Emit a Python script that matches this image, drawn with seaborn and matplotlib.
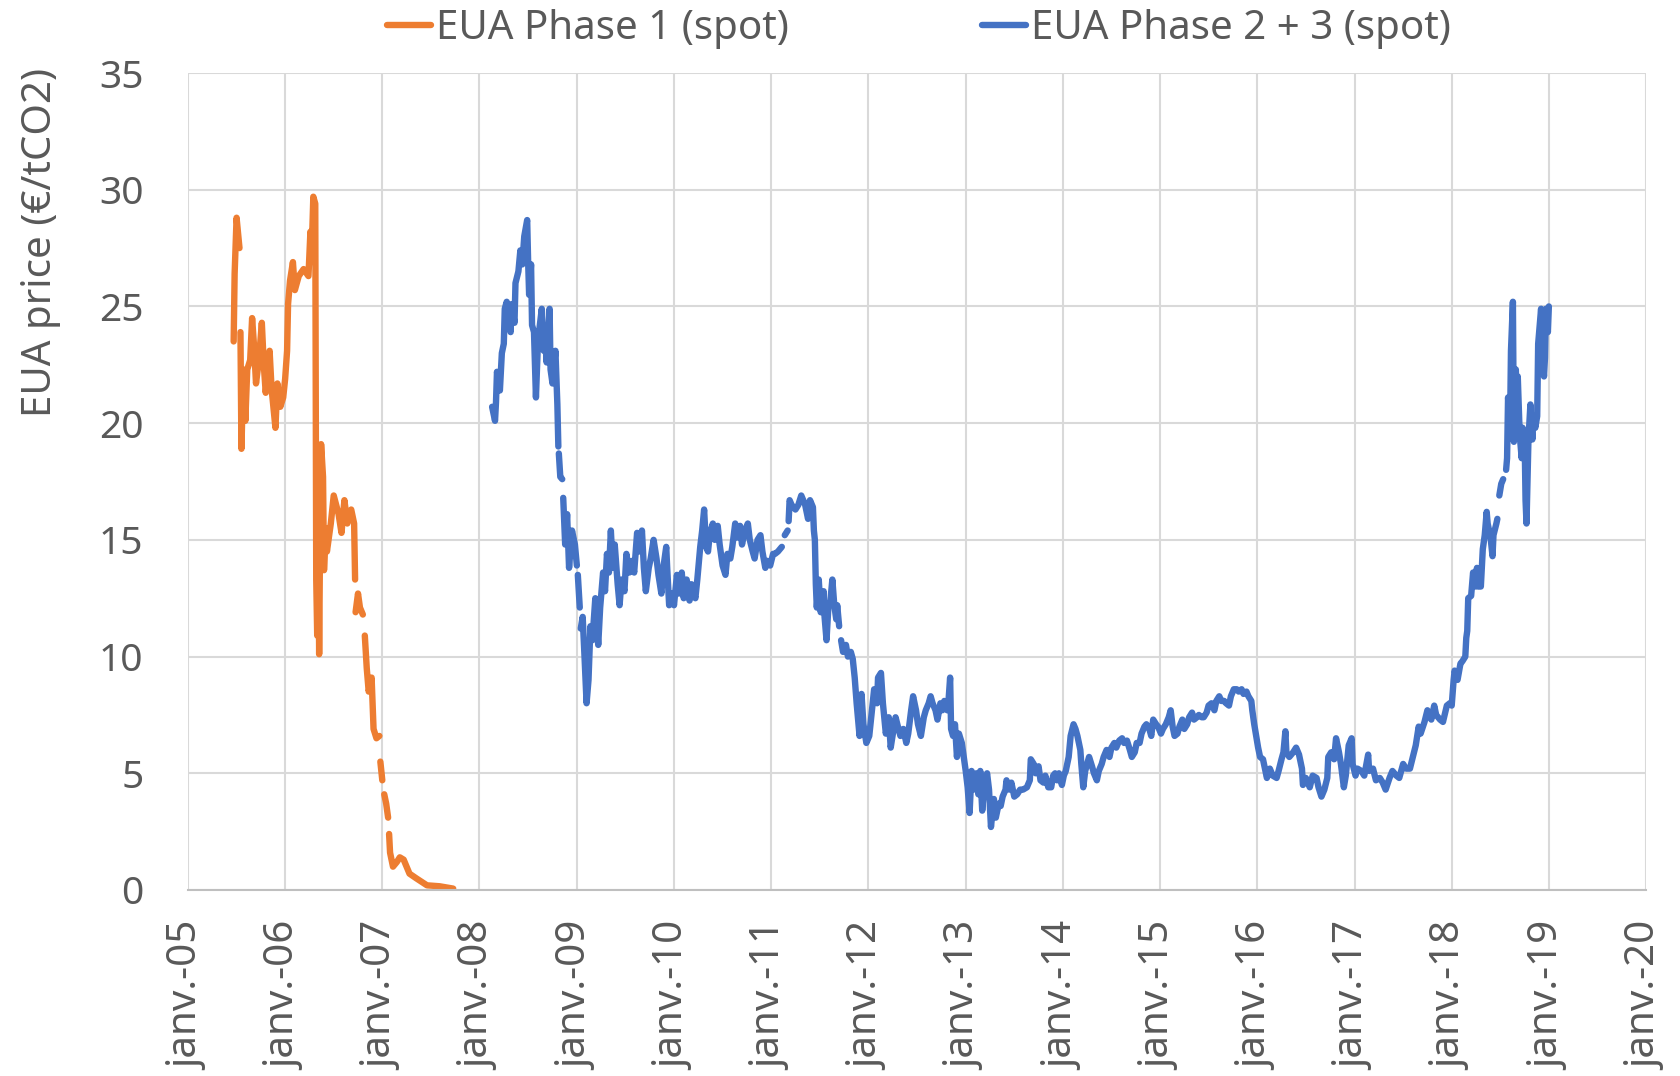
import numpy as np
import pandas as pd
import matplotlib.pyplot as plt
import seaborn as sns

nan = np.nan

# Phase 1 (decimal year, EUR/tCO2) - nan marks a gap in the series
phase1_years = [2005.47, 2005.48, 2005.50, 2005.53, nan,
                2005.54, 2005.55, 2005.57, 2005.59, 2005.61, 2005.64, 2005.66, 2005.68,
                2005.70, 2005.73, 2005.76, 2005.78, 2005.80, 2005.84, 2005.86, 2005.90,
                2005.92, 2005.95, 2005.98, 2006.00, 2006.02, 2006.03, 2006.05, 2006.08,
                2006.10, 2006.14, 2006.19, 2006.24, 2006.26, 2006.27, 2006.29, 2006.31,
                2006.32, 2006.33, 2006.34, 2006.35, 2006.36, 2006.37, 2006.39, 2006.40,
                2006.42, 2006.43, 2006.47, 2006.50, 2006.55, 2006.58, 2006.61, 2006.64,
                2006.68, 2006.71, 2006.72, nan,
                2006.725, 2006.75, 2006.77, 2006.80, nan,
                2006.82, 2006.84, 2006.86, 2006.89, 2006.91, 2006.94, 2006.97, nan,
                2006.98, 2007.00, nan,
                2007.02, 2007.04, 2007.06, nan,
                2007.07, 2007.08, 2007.11, 2007.15, 2007.18, 2007.22, 2007.25, 2007.28,
                2007.35, 2007.46, 2007.59, 2007.73]
phase1_prices = [23.5, 26.4, 28.8, 27.5, nan,
                 23.9, 18.9, 22.3, 20.1, 22.3, 22.7, 24.5, 23.3,
                 21.7, 22.7, 24.3, 22.5, 21.3, 23.1, 21.5, 19.8,
                 21.7, 20.7, 21.1, 21.9, 23.1, 25.1, 26.1, 26.9,
                 25.7, 26.3, 26.6, 26.3, 28.2, 26.9, 29.7, 29.4,
                 13.3, 10.9, 16.3, 10.1, 15.3, 19.1, 17.7, 13.7,
                 15.5, 14.5, 15.7, 16.9, 16.1, 15.3, 16.7, 15.7,
                 16.3, 15.7, 13.3, nan,
                 11.9, 12.7, 12.1, 11.8, nan,
                 10.9, 9.5, 8.5, 9.1, 6.9, 6.5, 6.6, nan,
                 5.5, 4.7, nan,
                 4.1, 3.7, 3.1, nan,
                 2.4, 1.6, 1.0, 1.2, 1.4, 1.3, 1.0, 0.7,
                 0.5, 0.2, 0.16, 0.06]

# Phase 2 + 3 (decimal year, EUR/tCO2)
phase23_years = [2008.13, 2008.16, 2008.17, 2008.18, 2008.21, 2008.23, 2008.25, 2008.26,
                 2008.28, 2008.30, 2008.32, 2008.33, 2008.36, 2008.37, 2008.40, 2008.42,
                 2008.44, 2008.46, 2008.49, 2008.50, 2008.51, 2008.53, 2008.54, 2008.56,
                 2008.58, 2008.60, 2008.62, 2008.64, 2008.66, 2008.67, 2008.69, 2008.72,
                 2008.73, 2008.75, 2008.78, 2008.80, 2008.81, nan,
                 2008.815, 2008.83, 2008.85, nan,
                 2008.86, 2008.88, 2008.90, 2008.92, 2008.95, 2008.98, 2009.00, nan,
                 2009.01, 2009.03, nan,
                 2009.04, 2009.06, 2009.08, 2009.10, 2009.12, 2009.14, 2009.16, 2009.19,
                 2009.22, 2009.24, 2009.27, 2009.29, 2009.31, 2009.33, 2009.35, 2009.37,
                 2009.39, 2009.42, 2009.44, 2009.46, 2009.49, 2009.51, 2009.54, 2009.57,
                 2009.59, 2009.62, 2009.65, 2009.67, 2009.69, 2009.71, 2009.74, 2009.76,
                 2009.79, 2009.82, 2009.84, 2009.87, 2009.89, 2009.92, 2009.93, 2009.95,
                 2009.98, 2010.00, 2010.03, 2010.05, 2010.08, 2010.10, 2010.13, 2010.16,
                 2010.18, 2010.22, 2010.24, 2010.27, 2010.29, 2010.31, 2010.33, 2010.35,
                 2010.37, 2010.40, 2010.42, 2010.45, 2010.47, 2010.50, 2010.53, 2010.55,
                 2010.58, 2010.60, 2010.63, 2010.65, 2010.68, 2010.70, 2010.73, 2010.76,
                 2010.78, 2010.81, 2010.83, 2010.86, 2010.89, 2010.91, 2010.94, 2010.96,
                 2010.99, 2011.02, 2011.04, 2011.07, 2011.11, nan,
                 2011.14, 2011.17, nan,
                 2011.18, 2011.19, 2011.21, 2011.25, 2011.28, 2011.31, 2011.35, 2011.38,
                 2011.40, 2011.43, 2011.44, 2011.45, 2011.46, 2011.47, 2011.49, 2011.51,
                 2011.54, 2011.55, 2011.57, 2011.59, 2011.61, 2011.63, 2011.65, 2011.67,
                 2011.68, 2011.70, nan,
                 2011.72, 2011.74, 2011.77, 2011.79, 2011.82, 2011.84,
                 2011.86, 2011.88, 2011.91, 2011.93, 2011.95, 2011.98, 2012.01, 2012.03,
                 2012.06, 2012.09, 2012.10, 2012.13, 2012.15, 2012.18, 2012.21, 2012.23,
                 2012.26, 2012.28, 2012.31, 2012.33, 2012.36, 2012.39, 2012.41, 2012.44,
                 2012.46, 2012.49, 2012.51, 2012.54, 2012.57, 2012.59, 2012.62, 2012.64,
                 2012.66, 2012.69, 2012.71, 2012.74, 2012.76, 2012.78, 2012.81, 2012.82,
                 2012.84, 2012.85, 2012.87, 2012.89, 2012.91, 2012.93, 2012.96, 2012.98,
                 2013.00, 2013.02, 2013.04, 2013.06, 2013.08, 2013.11, 2013.13, 2013.15,
                 2013.17, 2013.19, 2013.22, 2013.24, 2013.26, 2013.29, 2013.31, 2013.34,
                 2013.36, 2013.38, 2013.41, 2013.42, 2013.45, 2013.47, 2013.50, 2013.53,
                 2013.56, 2013.59, 2013.63, 2013.66, 2013.67, 2013.70, 2013.72, 2013.75,
                 2013.77, 2013.80, 2013.82, 2013.85, 2013.88, 2013.90, 2013.92, 2013.94,
                 2013.96, 2013.99, 2014.01, 2014.03, 2014.06, 2014.08, 2014.11, 2014.13,
                 2014.15, 2014.18, 2014.19, 2014.21, 2014.23, 2014.25, 2014.27, 2014.30,
                 2014.32, 2014.35, 2014.37, 2014.40, 2014.42, 2014.45, 2014.48, 2014.50,
                 2014.53, 2014.55, 2014.58, 2014.61, 2014.63, 2014.66, 2014.69, 2014.71,
                 2014.74, 2014.76, 2014.79, 2014.81, 2014.84, 2014.86, 2014.89, 2014.91,
                 2014.93, 2014.96, 2014.98, 2015.01, 2015.03, 2015.06, 2015.09, 2015.11,
                 2015.13, 2015.15, 2015.18, 2015.20, 2015.23, 2015.25, 2015.28, 2015.30,
                 2015.33, 2015.35, 2015.38, 2015.40, 2015.43, 2015.45, 2015.48, 2015.50,
                 2015.53, 2015.56, 2015.58, 2015.61, 2015.63, 2015.66, 2015.68, 2015.71,
                 2015.73, 2015.76, 2015.79, 2015.81, 2015.84, 2015.86, 2015.89, 2015.91,
                 2015.94, 2015.95, 2015.97, 2015.99, 2016.01, 2016.03, 2016.06,
                 2016.08, 2016.10, 2016.13, 2016.16, 2016.20, 2016.22, 2016.25, 2016.27,
                 2016.29, 2016.30, 2016.33, 2016.37, 2016.40, 2016.43, 2016.46, 2016.47,
                 2016.50, 2016.54, 2016.57, 2016.61, 2016.63, 2016.66, 2016.69, 2016.72,
                 2016.73, 2016.76, 2016.79, 2016.81, 2016.84, 2016.86, 2016.89, 2016.91,
                 2016.94, 2016.97, 2016.98, 2017.01, 2017.03, 2017.07, 2017.10, 2017.14,
                 2017.15, 2017.19, 2017.22, 2017.26, 2017.29, 2017.32, 2017.36, 2017.39,
                 2017.43, 2017.46, 2017.50, 2017.53, 2017.57, 2017.60, 2017.63, 2017.66,
                 2017.68, 2017.72, 2017.75, 2017.79, 2017.82, 2017.84, 2017.88, 2017.91,
                 2017.95, 2017.98, 2018.00, 2018.02, 2018.03, 2018.06, 2018.09, 2018.11,
                 2018.14, 2018.15, 2018.16, 2018.17, 2018.20, 2018.22, 2018.24, 2018.26,
                 2018.27, 2018.30, 2018.32, 2018.34, 2018.36, 2018.37, 2018.40, 2018.42,
                 2018.43, 2018.46, 2018.47, nan,
                 2018.49, 2018.51, 2018.53, nan,
                 2018.56, 2018.57, 2018.58, 2018.60, 2018.61, 2018.63, 2018.64, 2018.66,
                 2018.67, 2018.68, 2018.70, 2018.72, 2018.73, 2018.75, 2018.76, 2018.77,
                 2018.79, 2018.81, 2018.83, 2018.84, 2018.86, 2018.88, 2018.89, 2018.91,
                 2018.92, 2018.93, 2018.95, 2018.96, 2018.97, 2018.99, 2019.00]
phase23_prices = [20.7, 20.1, 20.9, 22.2, 21.4, 23.0, 23.4, 24.9,
                  25.2, 24.5, 23.9, 25.1, 24.3, 26.0, 26.5, 27.4,
                  26.8, 28.0, 28.7, 26.9, 25.5, 26.8, 24.2, 23.9,
                  21.1, 23.4, 24.2, 24.9, 23.1, 24.0, 22.6, 24.9,
                  22.3, 21.7, 23.1, 20.8, 19.0, nan,
                  18.7, 17.7, 17.6, nan,
                  16.8, 14.8, 16.1, 13.8, 15.4, 14.8, 13.9, nan,
                  13.5, 12.1, nan,
                  11.2, 11.7, 9.9, 8.0, 9.0, 11.3, 10.7, 12.5,
                  10.5, 12.1, 13.6, 12.8, 14.4, 13.6, 15.4, 13.8,
                  14.8, 13.1, 12.2, 13.3, 12.8, 14.4, 13.6, 14.1,
                  13.6, 15.3, 14.5, 15.4, 13.8, 12.8, 13.8, 14.2,
                  15.0, 14.2, 13.5, 12.7, 13.8, 14.7, 13.8, 12.2,
                  12.7, 12.2, 13.5, 12.7, 13.6, 12.5, 13.3, 12.4,
                  13.1, 12.5, 13.3, 14.7, 15.4, 16.3, 14.7, 14.5,
                  15.3, 15.7, 15.0, 15.6, 14.8, 13.9, 13.5, 14.4,
                  14.2, 14.7, 15.7, 15.1, 15.6, 14.8, 15.4, 15.7,
                  15.0, 14.5, 14.2, 15.0, 15.2, 14.5, 13.8, 14.1,
                  13.9, 14.4, 14.4, 14.5, 14.7, nan,
                  15.2, 15.4, nan,
                  15.8, 16.7, 16.5, 16.3, 16.5, 16.9, 16.5, 15.9,
                  16.7, 16.4, 15.4, 15.0, 13.1, 12.1, 13.3, 11.9,
                  12.8, 11.7, 10.7, 12.2, 12.4, 13.3, 12.2, 11.6,
                  12.2, 11.3, nan,
                  10.7, 10.2, 10.5, 10.0, 10.2, 9.9,
                  9.1, 8.0, 6.6, 8.4, 7.1, 6.3, 6.6, 7.4,
                  8.6, 8.0, 9.1, 9.3, 8.0, 6.7, 7.4, 6.1,
                  6.9, 7.4, 6.9, 6.6, 6.9, 6.3, 6.7, 7.7,
                  8.3, 7.7, 7.1, 6.6, 7.4, 7.7, 8.0, 8.3,
                  8.0, 7.7, 7.3, 8.0, 7.7, 8.1, 7.7, 7.9,
                  9.1, 6.9, 6.6, 7.1, 5.7, 6.7, 6.3, 5.7,
                  5.1, 4.4, 3.3, 5.1, 4.3, 5.0, 4.1, 5.1,
                  3.4, 4.4, 5.0, 4.3, 2.7, 3.9, 3.1, 3.7,
                  3.6, 4.0, 4.3, 4.7, 4.3, 4.6, 4.0, 4.1,
                  4.3, 4.3, 4.4, 4.7, 5.6, 5.4, 5.0, 5.3,
                  4.7, 4.6, 4.9, 4.4, 4.4, 4.9, 5.0, 4.7,
                  5.0, 4.5, 4.9, 5.1, 5.7, 6.6, 7.1, 6.9,
                  6.6, 6.0, 5.4, 4.4, 5.1, 5.4, 5.7, 5.3,
                  5.0, 4.7, 5.1, 5.4, 5.7, 6.0, 5.7, 6.1,
                  6.3, 6.1, 6.4, 6.5, 6.3, 6.4, 6.0, 5.7,
                  5.9, 6.3, 6.3, 6.7, 7.0, 7.1, 6.9, 6.6,
                  7.3, 7.1, 7.0, 6.7, 6.9, 7.1, 7.4, 7.7,
                  7.0, 6.6, 6.7, 7.0, 7.3, 6.9, 7.1, 7.4,
                  7.6, 7.3, 7.4, 7.5, 7.4, 7.4, 7.6, 7.9,
                  8.0, 7.7, 8.1, 8.3, 8.1, 8.1, 8.0, 7.9,
                  8.3, 8.6, 8.6, 8.5, 8.6, 8.4, 8.5, 8.3,
                  8.1, 7.7, 7.1, 6.6, 6.1, 5.7, 5.6,
                  5.2, 4.8, 5.2, 4.9, 4.8, 5.1, 5.6, 5.9,
                  6.8, 5.9, 5.7, 5.9, 6.1, 5.8, 5.2, 4.5,
                  4.8, 4.4, 4.9, 4.8, 4.4, 4.0, 4.3, 4.8,
                  5.7, 5.9, 5.6, 6.5, 5.9, 5.4, 4.4, 4.9,
                  6.2, 6.5, 5.4, 4.9, 5.2, 5.1, 4.9, 5.8,
                  5.1, 5.2, 4.7, 4.8, 4.6, 4.3, 4.8, 5.1,
                  4.9, 4.8, 5.4, 5.2, 5.2, 5.7, 6.2, 7.0,
                  6.7, 7.2, 7.7, 7.3, 7.9, 7.5, 7.3, 7.2,
                  7.9, 8.0, 7.9, 9.0, 9.4, 9.0, 9.7, 9.8,
                  10.0, 10.8, 11.1, 12.5, 12.6, 13.6, 13.0, 13.8,
                  13.0, 13.0, 14.6, 15.2, 16.2, 15.7, 15.1, 14.3,
                  15.2, 15.7, 15.9, nan,
                  16.9, 17.4, 17.6, nan,
                  18.0, 18.5, 21.1, 19.7, 23.1, 25.2, 19.2, 22.3,
                  21.0, 22.0, 19.5, 18.5, 19.8, 19.5, 16.7, 15.7,
                  19.3, 20.8, 19.3, 20.3, 19.8, 20.3, 23.4, 24.4,
                  24.9, 23.3, 22.0, 22.8, 24.9, 23.9, 25.0]

series_names = ['EUA Phase 1 (spot)', 'EUA Phase 2 + 3 (spot)']
series_colors = ['#ED7D31', '#4472C4']
tick_years = list(range(2005, 2021))
tick_labels = [f'janv.-{y % 100:02d}' for y in tick_years]


def to_date(y):
    year = int(np.floor(y))
    start = pd.Timestamp(year=year, month=1, day=1)
    end = pd.Timestamp(year=year + 1, month=1, day=1)
    return start + (end - start) * (y - year)


frames = []
for name, years, prices in [(series_names[0], phase1_years, phase1_prices),
                            (series_names[1], phase23_years, phase23_prices)]:
    d = pd.DataFrame({'year': years, 'price': prices})
    d['segment'] = name + '_' + d['year'].isna().cumsum().astype(str)
    d = d.dropna()
    d['date'] = d['year'].apply(to_date)
    d['series'] = name
    frames.append(d)
df = pd.concat(frames, ignore_index=True)

sns.set_style('white')
plt.rcParams['font.family'] = ['Noto Sans', 'DejaVu Sans']
text_color = '#595959'
lw = 4.6

fig = plt.figure(figsize=(16.81, 10.76), dpi=100)
ax = fig.add_axes([188 / 1681, 1 - 890 / 1076, (1646 - 188) / 1681, (890 - 73) / 1076])

sns.lineplot(data=df, x='date', y='price', hue='series', units='segment',
             estimator=None, palette=dict(zip(series_names, series_colors)),
             sort=False, ax=ax, legend=True)
for line in ax.get_lines():
    line.set_linewidth(lw)
    line.set_solid_capstyle('round')
    line.set_solid_joinstyle('round')

ax.set_xlim(pd.Timestamp('2005-01-01'), pd.Timestamp('2020-01-01'))
ax.set_ylim(0, 35)
ax.set_yticks(range(0, 36, 5))
ax.set_xticks([pd.Timestamp(year=y, month=1, day=1) for y in tick_years])
ax.set_xticklabels(tick_labels, rotation=90)
ax.grid(True, color='#D9D9D9', linewidth=1.5)
ax.set_axisbelow(True)
for side in ['top', 'right', 'left']:
    ax.spines[side].set_visible(False)
ax.spines['bottom'].set_color('#BFBFBF')
ax.spines['bottom'].set_linewidth(1.5)
ax.tick_params(axis='y', length=0, pad=32, labelsize=28, labelcolor=text_color)
ax.tick_params(axis='x', length=0, pad=23, labelsize=29, labelcolor=text_color)
ax.set_xlabel('')
ax.set_ylabel('EUA price (€/tCO2)', fontsize=29, color=text_color)
ax.yaxis.set_label_coords((61 - 188) / 1458, (890 - 242) / 817)

handles, labels = ax.get_legend_handles_labels()
ax.get_legend().remove()
for h in handles:
    h.set_linewidth(lw)
fig.legend(handles, labels, loc='center', bbox_to_anchor=(919 / 1681, 1 - 29 / 1076),
           ncol=2, frameon=False, fontsize=29, labelcolor=text_color,
           handlelength=1.1, handletextpad=0.12, columnspacing=4.8)

fig.savefig('out.png', dpi=100)
